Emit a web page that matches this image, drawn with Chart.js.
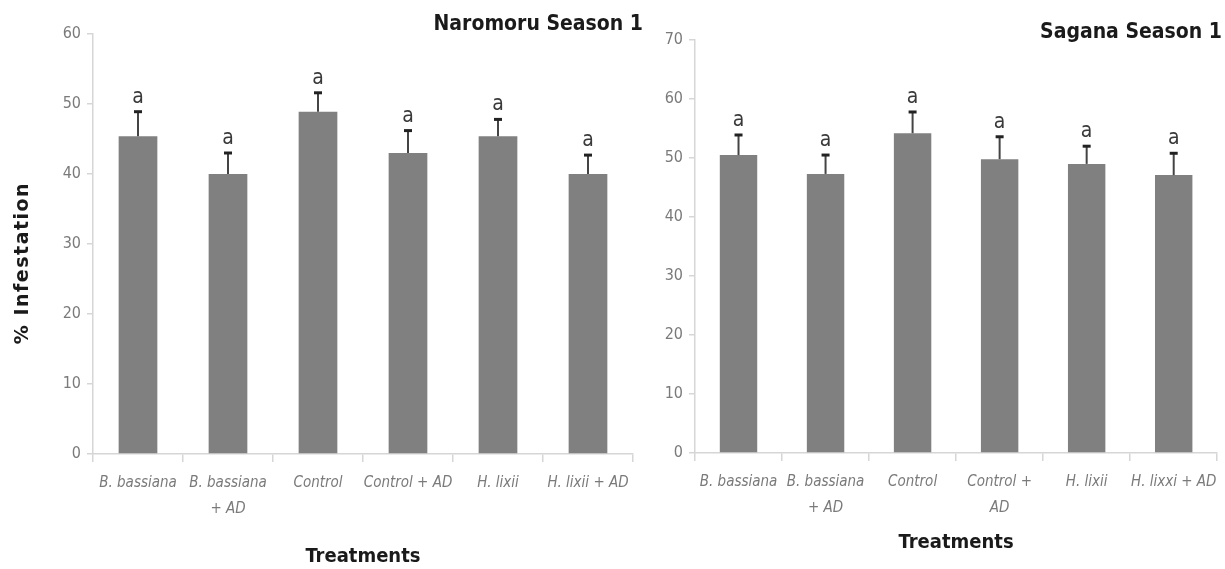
<!DOCTYPE html>
<html>
<head>
<meta charset="utf-8">
<script src="https://cdn.jsdelivr.net/npm/chart.js"></script>
<style>
    body { margin: 0; background: #ffffff; }
    #wrap { position: relative; width: 1225px; height: 569px; overflow: hidden; }
    #leftBox { position: absolute; left: 0; top: 0; width: 648px; height: 569px; }
    #rightBox { position: absolute; left: 640px; top: 0; width: 585px; height: 569px; }
</style>
</head>
<body>
<div id="wrap">
    <div id="leftBox"><canvas id="naromoru"></canvas></div>
    <div id="rightBox"><canvas id="sagana"></canvas></div>
</div>
<script>
// Naromoru Season 1
var naromoruLabels = [["B. bassiana"], ["B. bassiana", "+ AD"], ["Control"], ["Control + AD"], ["H. lixii"], ["H. lixii + AD"]];
var naromoruMeans = [45.4, 40.0, 48.9, 43.0, 45.4, 40.0];
var naromoruErrors = [3.5, 3.0, 2.7, 3.2, 2.4, 2.7]; // upper error only
var naromoruLetters = ["a", "a", "a", "a", "a", "a"];
var naromoruMax = 60;

// Sagana Season 1
var saganaLabels = [["B. bassiana"], ["B. bassiana", "+ AD"], ["Control"], ["Control +", "AD"], ["H. lixii"], ["H. lixxi + AD"]];
var saganaMeans = [50.5, 47.3, 54.2, 49.8, 49.0, 47.1];
var saganaErrors = [3.4, 3.2, 3.6, 3.8, 3.0, 3.7];
var saganaLetters = ["a", "a", "a", "a", "a", "a"];
var saganaMax = 70;

var tickStep = 10;

var narrow = '"Liberation Sans Narrow", "DejaVu Sans Condensed", "Liberation Sans", sans-serif';
var barGrey = '#808080';
var axisGrey = '#d6d6d6';
var labelGrey = '#7a7a7a';

// error bars + letters above each bar
var errorBarPlugin = {
    id: 'errorBars',
    afterDatasetsDraw: function (chart) {
        var ctx = chart.ctx;
        var yScale = chart.scales.y;
        var ds = chart.data.datasets[0];
        var meta = chart.getDatasetMeta(0);
        ctx.save();
        meta.data.forEach(function (bar, i) {
            var top = yScale.getPixelForValue(ds.data[i] + ds.errors[i]);
            ctx.strokeStyle = '#444444';
            ctx.lineWidth = 2;
            ctx.beginPath();
            ctx.moveTo(bar.x, bar.y);
            ctx.lineTo(bar.x, top);
            ctx.stroke();
            ctx.strokeStyle = '#222222';
            ctx.lineWidth = 3;
            ctx.beginPath();
            ctx.moveTo(bar.x - 4, top);
            ctx.lineTo(bar.x + 4, top);
            ctx.stroke();
            ctx.fillStyle = '#3a3a3a';
            ctx.font = '21px ' + narrow;
            ctx.textAlign = 'center';
            ctx.textBaseline = 'alphabetic';
            ctx.fillText(ds.letters[i], bar.x, top - 9);
        });
        ctx.restore();
    }
};

// panel title top right, rotated y title
var panelTextPlugin = {
    id: 'panelText',
    afterDraw: function (chart, args, opts) {
        var ctx = chart.ctx;
        ctx.save();
        ctx.fillStyle = '#1a1a1a';
        ctx.font = 'bold 21px ' + narrow;
        ctx.textAlign = 'right';
        ctx.textBaseline = 'middle';
        ctx.fillText(opts.title, chart.width - opts.titleRight, opts.titleY);
        if (opts.yTitle) {
            ctx.translate(opts.yTitleX, opts.yTitleY);
            ctx.rotate(-Math.PI / 2);
            ctx.font = 'bold 19px "DejaVu Sans", sans-serif';
            ctx.letterSpacing = '1.5px';
            ctx.textAlign = 'center';
            ctx.fillText(opts.yTitle, 0, 0);
        }
        ctx.restore();
    }
};

function makeOptions(yMax, axisWidth, axisHeight, pad, titleBottom, panel) {
    return {
        responsive: true,
        maintainAspectRatio: false,
        animation: false,
        layout: { padding: pad },
        plugins: {
            legend: { display: false },
            tooltip: { enabled: false },
            panelText: panel
        },
        scales: {
            x: {
                grid: { drawOnChartArea: false, offset: true, tickLength: 8, color: axisGrey, lineWidth: 1.5 },
                border: { color: axisGrey, width: 1.5 },
                ticks: {
                    color: labelGrey, padding: 8, maxRotation: 0, autoSkip: false,
                    font: { family: narrow, size: 15, style: 'italic', lineHeight: 1.75 }
                },
                title: {
                    display: true, text: 'Treatments', color: '#1a1a1a',
                    font: { family: narrow, size: 20, weight: 'bold', lineHeight: 1.2 },
                    padding: { top: 0, bottom: titleBottom }
                },
                afterFit: function (scale) { scale.height = axisHeight; }
            },
            y: {
                min: 0,
                max: yMax,
                grid: { drawOnChartArea: false, tickLength: 6, color: axisGrey, lineWidth: 1.5 },
                border: { color: axisGrey, width: 1.5 },
                ticks: {
                    stepSize: tickStep, color: labelGrey, padding: 6,
                    font: { family: narrow, size: 16 }
                },
                afterFit: function (scale) { scale.width = axisWidth; }
            }
        }
    };
}

var naromoruChartObject = {
    type: 'bar',
    data: {
        labels: naromoruLabels,
        datasets: [{
            data: naromoruMeans,
            errors: naromoruErrors,
            letters: naromoruLetters,
            backgroundColor: barGrey,
            borderWidth: 0,
            barPercentage: 0.43,
            categoryPercentage: 1.0
        }]
    },
    options: makeOptions(naromoruMax, 93, 115, { top: 34, right: 15, bottom: 0, left: 0 }, 0,
        { title: 'Naromoru Season 1', titleRight: 5, titleY: 25, yTitle: '% Infestation', yTitleX: 23, yTitleY: 263 }),
    plugins: [errorBarPlugin, panelTextPlugin]
};

var saganaChartObject = {
    type: 'bar',
    data: {
        labels: saganaLabels,
        datasets: [{
            data: saganaMeans,
            errors: saganaErrors,
            letters: saganaLetters,
            backgroundColor: barGrey,
            borderWidth: 0,
            barPercentage: 0.43,
            categoryPercentage: 1.0
        }]
    },
    options: makeOptions(saganaMax, 55, 116, { top: 40, right: 7, bottom: 0, left: 0 }, 14,
        { title: 'Sagana Season 1', titleRight: 3, titleY: 33 }),
    plugins: [errorBarPlugin, panelTextPlugin]
};

var naromoruChart = new Chart(document.getElementById('naromoru'), naromoruChartObject);
var saganaChart = new Chart(document.getElementById('sagana'), saganaChartObject);
</script>
</body>
</html>
